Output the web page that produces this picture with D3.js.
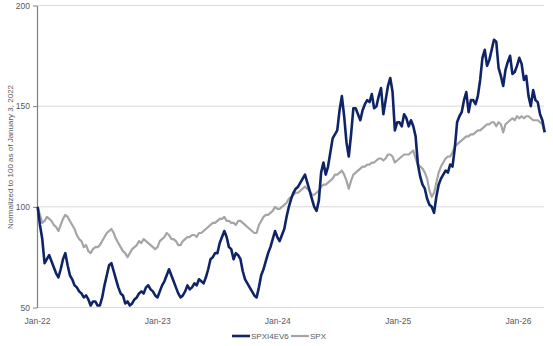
<!DOCTYPE html>
<html><head><meta charset="utf-8">
<script src="https://cdn.jsdelivr.net/npm/d3@7"></script>
<style>body{margin:0;background:#fff}svg{display:block}text{font-family:"Liberation Sans",Arial,sans-serif;fill:#595959}</style>
</head><body><svg id="c" width="553" height="346"></svg>
<script>
const startDate = "2022-01-03"; // weekly observations from this date
const seriesNames = ["SPXI4EV6", "SPX"];
const yTicks = [50, 100, 150, 200];
const xTickLabels = ["Jan-22", "Jan-23", "Jan-24", "Jan-25", "Jan-26"];
const xTickDates = ["2022-01-01", "2023-01-01", "2024-01-01", "2025-01-01", "2026-01-01"];
const yTitle = "Normalized to 100 as of January 3, 2022";

const spxi = [
100,91,84,72,74,76,73,70,67,65,69,74,77,71,66,64,61,60,58,57,
55,56,54,51,53,53,51,51,55,61,66,71,72,68,64,60,57,56,52,53,
51,52,54,55,57,58,57,60,61,59,58,56,55,58,61,63,66,69,66,63,
60,57,55,56,58,61,59,60,62,61,64,63,62,65,69,74,75,77,77,82,
85,88,85,80,79,74,77,76,74,68,64,62,60,58,56,55,60,66,69,73,
77,80,84,88,85,83,86,89,95,100,104,107,109,110,112,114,116,112,108,104,
100,98,103,117,122,116,120,127,134,136,138,148,155,145,132,125,136,149,149,146,
143,148,151,153,152,156,149,150,155,159,146,153,160,164,157,138,142,142,140,146,
144,140,143,140,135,121,115,111,109,104,101,100,97,105,111,114,116,118,117,121,
120,129,142,145,147,153,157,147,153,153,151,155,163,174,178,170,173,178,183,182,
169,165,160,168,172,175,166,167,170,174,171,163,165,155,150,158,153,152,146,143,
137];

const spx = [
100,96,92,93,95,94,93,91,90,88,91,94,96,95,93,91,89,86,84,83,
80,81,78,77,79,80,80,81,83,85,87,88,89,87,84,82,80,78,77,75,
77,79,80,81,83,82,84,83,82,81,80,79,80,83,84,85,87,86,84,84,
83,81,81,83,84,85,85,86,86,85,87,87,88,89,90,91,92,92,93,94,
94,95,93,93,92,92,91,93,93,92,91,90,89,88,87,87,91,93,95,96,
96,97,98,100,99,99,100,101,102,104,105,106,107,107,108,109,110,109,108,106,
106,107,108,110,111,111,112,113,114,116,116,117,118,116,113,109,113,116,117,118,
119,120,120,121,121,122,122,123,124,124,123,124,126,126,125,122,123,124,125,126,
126,126,127,128,124,121,120,119,117,114,108,105,107,112,117,120,122,124,125,125,
127,130,131,132,133,134,135,135,136,136,137,138,138,139,140,141,141,142,142,140,
142,141,137,141,142,143,144,143,145,144,145,144,145,145,144,143,143,143,142,141,
137];

const colors = ["#0f2466", "#a5a5a5"];
const widths = [2.6, 2.2];

const parse = d3.utcParse("%Y-%m-%d");
const t0 = parse(startDate);
const dates = spxi.map((_, i) => d3.utcDay.offset(t0, i * 7));

const svg = d3.select("#c");
const x = d3.scaleUtc().domain([parse(xTickDates[0]), parse(xTickDates[4])]).range([37, 518]);
const y = d3.scaleLinear().domain([50, 200]).range([307.5, 5.5]);
const xEnd = 544;

// gridlines
svg.append("g").selectAll("line").data(yTicks).join("line")
  .attr("x1", 37).attr("x2", xEnd).attr("y1", d => y(d)).attr("y2", d => y(d))
  .attr("stroke", "#d9d9d9").attr("stroke-width", 1);

// y axis
const yAxis = d3.axisLeft(y).tickValues(yTicks).tickSize(4).tickSizeOuter(0).tickPadding(3);
const ga = svg.append("g").attr("transform", "translate(37,0)").call(yAxis);
ga.select(".domain").attr("stroke", "#7f7f7f").attr("stroke-width", 1.2);
ga.selectAll(".tick line").attr("stroke", "#7f7f7f");
ga.selectAll("text").style("font-size", "8.5px").attr("fill", "#595959");

// x axis labels
const xAxis = d3.axisBottom(x).tickValues(xTickDates.map(parse)).tickSize(0).tickPadding(10)
  .tickFormat((d, i) => xTickLabels[i]);
const gx = svg.append("g").attr("transform", "translate(0,307.5)").call(xAxis);
gx.select(".domain").remove();
gx.selectAll("text").style("font-size", "8.5px").attr("fill", "#595959");

// lines
const line = d3.line().x((d, i) => x(dates[i])).y(d => y(d));
[spx, spxi].forEach((s, k) => {
  const idx = k === 0 ? 1 : 0;
  svg.append("path").datum(s).attr("d", line).attr("fill", "none")
    .attr("stroke", colors[idx]).attr("stroke-width", widths[idx]).attr("stroke-linejoin", "round");
});

// y title
svg.append("text").attr("transform", "translate(13,157) rotate(-90)").attr("text-anchor", "middle")
  .style("font-size", "8px").text(yTitle);

// legend
const leg = [{x: 232, w: 18}, {x: 291, w: 18}];
seriesNames.forEach((n, i) => {
  svg.append("line").attr("x1", leg[i].x).attr("x2", leg[i].x + leg[i].w).attr("y1", 336).attr("y2", 336)
    .attr("stroke", colors[i]).attr("stroke-width", widths[i]);
  svg.append("text").attr("x", leg[i].x + leg[i].w + 1).attr("y", 339).style("font-size", "8px").text(n);
});
</script></body></html>
